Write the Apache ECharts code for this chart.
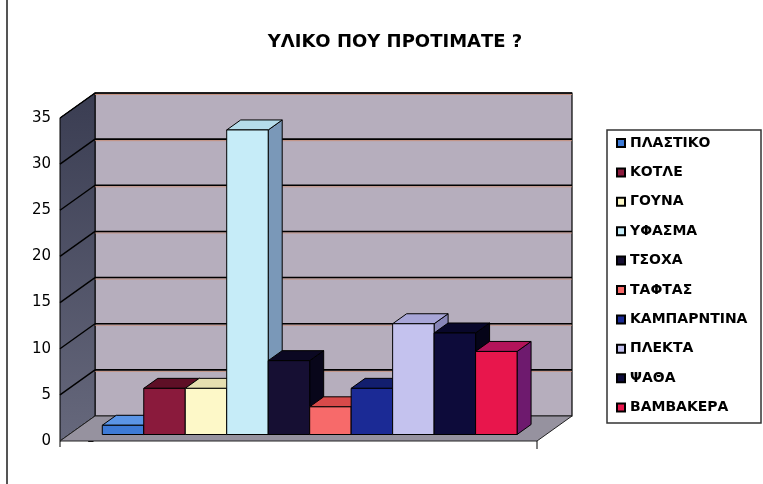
<!DOCTYPE html>
<html>
<head>
    <meta charset="utf-8">
    <title>ΥΛΙΚΟ ΠΟΥ ΠΡΟΤΙΜΑΤΕ ?</title>
    <script src="https://cdn.jsdelivr.net/npm/echarts@6/dist/echarts.min.js"></script>
    <style>
        html, body { margin: 0; padding: 0; background: #fff; }
        #chart { width: 763px; height: 484px; }
    </style>
</head>
<body>
<div id="chart"></div>
<script>
// data
var categories = ['ΠΛΑΣΤΙΚΟ', 'ΚΟΤΛΕ', 'ΓΟΥΝΑ', 'ΥΦΑΣΜΑ', 'ΤΣΟΧΑ', 'ΤΑΦΤΑΣ', 'ΚΑΜΠΑΡΝΤΙΝΑ', 'ΠΛΕΚΤΑ', 'ΨΑΘΑ', 'ΒΑΜΒΑΚΕΡΑ'];
var values = [1, 5, 5, 33, 8, 3, 5, 12, 11, 9];
var yTicks = [0, 5, 10, 15, 20, 25, 30, 35];

// colours: front / top / side faces
var frontCol = ['#3d7ad6', '#8a1a3c', '#fdf8c8', '#c6ecf8', '#160f33', '#f76a6a', '#1b2a95', '#c4c2ee', '#0d0b3a', '#e8164c'];
var topCol   = ['#5b95e6', '#5e0f26', '#e6dfb0', '#b5dcea', '#0b0822', '#d84a4a', '#121e6e', '#a8a6d8', '#08072a', '#b3145a'];
var sideCol  = ['#2a5ca8', '#4a0a1e', '#c9c293', '#7a98b8', '#08061a', '#b03a3a', '#0c1450', '#8886b8', '#050418', '#6e1a6e'];

// depth of the box (front plane -> back wall), and where the bars sit in it
var DX = 35, DY = -25;
var F1 = 0.26, F2 = 0.66;

var font = '"DejaVu Sans", "Liberation Sans", Arial, sans-serif';

function wallsItem(params, api) {
    var cs = params.coordSys;
    var x0 = cs.x, x1 = cs.x + cs.width;
    var yTop = cs.y, yBot = cs.y + cs.height;
    var kids = [];
    // back wall
    kids.push({type: 'rect', shape: {x: x0 + DX, y: yTop + DY, width: cs.width, height: cs.height},
        style: {fill: '#b6aebd', stroke: '#000', lineWidth: 1.2}});
    // left wall
    kids.push({type: 'polygon', shape: {points: [[x0, yTop], [x0 + DX, yTop + DY], [x0 + DX, yBot + DY], [x0, yBot]]},
        style: {fill: new echarts.graphic.LinearGradient(0, 0, 0, 1, [{offset: 0, color: '#3a3d52'}, {offset: 1, color: '#66687c'}]),
            stroke: '#000', lineWidth: 1}});
    // floor
    kids.push({type: 'polygon', shape: {points: [[x0, yBot], [x1, yBot], [x1 + DX, yBot + DY], [x0 + DX, yBot + DY]]},
        style: {fill: '#96929f', stroke: '#222', lineWidth: 1}});
    // gridlines on walls
    for (var i = 1; i < yTicks.length; i++) {
        var y = api.coord([-0.8, yTicks[i]])[1];
        kids.push({type: 'line', shape: {x1: x0 + DX, y1: y + DY + 1.5, x2: x1 + DX, y2: y + DY + 1.5},
            style: {stroke: '#c98a70', lineWidth: 0.8}});
        kids.push({type: 'line', shape: {x1: x0 + DX, y1: y + DY, x2: x1 + DX, y2: y + DY},
            style: {stroke: '#000', lineWidth: 1.6}});
        kids.push({type: 'line', shape: {x1: x0, y1: y, x2: x0 + DX, y2: y + DY},
            style: {stroke: '#000', lineWidth: 1.4}});
    }
    // small end ticks under the floor
    kids.push({type: 'line', shape: {x1: x0, y1: yBot, x2: x0, y2: yBot + 6}, style: {stroke: '#000', lineWidth: 1}});
    kids.push({type: 'line', shape: {x1: x1, y1: yBot, x2: x1, y2: yBot + 8}, style: {stroke: '#000', lineWidth: 1}});
    return {type: 'group', children: kids};
}

function barItem(k) {
    return function (params, api) {
        var i = api.value(0), v = api.value(1);
        var p0 = api.coord([i, 0]);
        var p1 = api.coord([i + 1, v]);
        var ox = F1 * DX, oy = F1 * DY;
        var wx = (F2 - F1) * DX, wy = (F2 - F1) * DY;
        var xl = p0[0] + ox, xr = p1[0] + ox, yb = p0[1] + oy, yt = p1[1] + oy;
        var st = {stroke: '#000', lineWidth: 1, lineJoin: 'round'};
        return {type: 'group', children: [
            {type: 'polygon', shape: {points: [[xr, yt], [xr + wx, yt + wy], [xr + wx, yb + wy], [xr, yb]]},
                style: Object.assign({fill: sideCol[k]}, st)},
            {type: 'polygon', shape: {points: [[xl, yt], [xr, yt], [xr + wx, yt + wy], [xl + wx, yt + wy]]},
                style: Object.assign({fill: topCol[k]}, st)},
            {type: 'rect', shape: {x: xl, y: yt, width: xr - xl, height: yb - yt},
                style: Object.assign({fill: frontCol[k]}, st)}
        ]};
    };
}

var series = [{
    type: 'custom',
    name: 'walls',
    silent: true,
    clip: false,
    renderItem: wallsItem,
    data: [[0, 0]],
    z: 1
}];
categories.forEach(function (name, k) {
    series.push({
        type: 'custom',
        name: name,
        clip: false,
        renderItem: barItem(k),
        itemStyle: {color: frontCol[k], borderColor: '#000', borderWidth: 1},
        data: [[k, values[k]]],
        z: 2
    });
});

var chart = echarts.init(document.getElementById('chart'), null, {renderer: 'canvas'});
var option = {
    backgroundColor: '#fff',
    animation: false,
    title: {
        text: 'ΥΛΙΚΟ ΠΟΥ ΠΡΟΤΙΜΑΤΕ ?',
        left: 390, top: 28, textAlign: 'center',
        textStyle: {fontFamily: font, fontSize: 18, fontWeight: 'bold', color: '#000'}
    },
    legend: {
        data: categories,
        orient: 'vertical',
        left: 616, top: 136,
        padding: 0,
        itemWidth: 8, itemHeight: 8, itemGap: 15.4,
        icon: 'rect',
        selectedMode: false,
        textStyle: {fontFamily: font, fontSize: 14, fontWeight: 'bold', color: '#000', lineHeight: 14}
    },
    graphic: [
        {type: 'rect', shape: {x: 607, y: 130, width: 154, height: 293},
            style: {fill: 'none', stroke: '#333', lineWidth: 1.5}, z: 0},
        {type: 'line', shape: {x1: 7, y1: 0, x2: 7, y2: 484},
            style: {stroke: '#555', lineWidth: 2}}
    ],
    grid: {left: 60, top: 118, right: 226, bottom: 43},
    xAxis: {type: 'value', min: -0.8, max: 10.7, show: false},
    yAxis: {
        type: 'value', min: 0, max: 35, interval: 5,
        axisLine: {show: true, lineStyle: {color: '#000', width: 1}},
        axisTick: {show: true, length: 5, lineStyle: {color: '#000'}},
        splitLine: {show: false},
        axisLabel: {fontFamily: font, fontSize: 15, color: '#000', margin: 9}
    },
    series: series
};
chart.setOption(option);
</script>
</body>
</html>
